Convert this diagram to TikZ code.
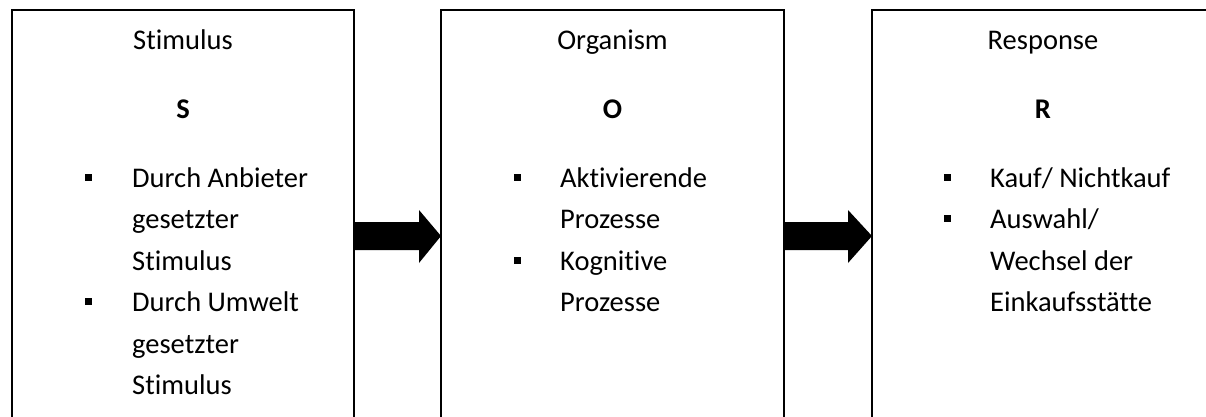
\documentclass[tikz,border=0pt]{standalone}
\usepackage{fontspec}
\setmainfont[Ligatures=NoCommon]{Carlito}
\usetikzlibrary{calc}
\begin{document}
\begin{tikzpicture}[x=1pt,y=-1pt,
  box/.style={draw, line width=1.5pt, minimum height=440pt, anchor=north west, inner sep=0pt, outer sep=0pt},
  txt/.style={font=\fontsize{28.5}{41.5}\selectfont, inner sep=0pt, anchor=base},
  item/.style={font=\fontsize{28.5}{41.5}\selectfont, inner sep=0pt, anchor=base west, align=left},
  bul/.style={fill, minimum size=7pt, inner sep=0pt},
  arr/.style={fill=black}]
\useasboundingbox (0,0) rectangle (1206,417);
\fill[white] (0,0) rectangle (1206,417);
\clip (0,0) rectangle (1206,417);
% boxes
\node[box, minimum width=342pt] (b1) at (12,10) {};
\node[box, minimum width=343pt] (b2) at (441,10) {};
\node[box, minimum width=342pt] (b3) at (872,10) {};
% titles
\node[txt] (t1) at ($(b1.north)+(0,40)$) {Stimulus};
\node[txt] (t2) at ($(b2.north)+(0,40)$) {Organism};
\node[txt] (t3) at ($(b3.north)+(0,40)$) {Response};
\node[txt] (l1) at ($(b1.north)+(0,108)$) {\bfseries S};
\node[txt] (l2) at ($(b2.north)+(0,108)$) {\bfseries O};
\node[txt] (l3) at ($(b3.north)+(0,108)$) {\bfseries R};
% box 1 items (base anchor = baseline of last line)
\node[bul] (p11) at ($(b1.north west)+(76,167)$) {};
\node[item] (i11) at ($(b1.north west)+(120,260)$) {Durch Anbieter\\gesetzter\\Stimulus};
\node[bul] (p12) at ($(b1.north west)+(76,291.5)$) {};
\node[item] (i12) at ($(b1.north west)+(120,384.5)$) {Durch Umwelt\\gesetzter\\Stimulus};
% box 2 items
\node[bul] (p21) at ($(b2.north west)+(76,167)$) {};
\node[item] (i21) at ($(b2.north west)+(119,218.5)$) {Aktivierende\\Prozesse};
\node[bul] (p22) at ($(b2.north west)+(76,250)$) {};
\node[item] (i22) at ($(b2.north west)+(119,301.5)$) {Kognitive\\Prozesse};
% box 3 items
\node[bul] (p31) at ($(b3.north west)+(75,167)$) {};
\node[item] (i31) at ($(b3.north west)+(118,177)$) {Kauf/ Nichtkauf};
\node[bul] (p32) at ($(b3.north west)+(75,208.5)$) {};
\node[item] (i32) at ($(b3.north west)+(118,301.5)$) {Auswahl/\\Wechsel der\\Einkaufsstätte};
% arrows
\fill[arr] ($(b1.north east)+(0,212)$) -- ($(b2.north west)+(-22,212)$) -- ($(b2.north west)+(-22,200)$)
  -- ($(b2.north west)+(0,226)$) -- ($(b2.north west)+(-22,253)$) -- ($(b2.north west)+(-22,240)$)
  -- ($(b1.north east)+(0,240)$) -- cycle;
\fill[arr] ($(b2.north east)+(0,212)$) -- ($(b3.north west)+(-24,212)$) -- ($(b3.north west)+(-24,200)$)
  -- ($(b3.north west)+(0,226)$) -- ($(b3.north west)+(-24,253)$) -- ($(b3.north west)+(-24,240)$)
  -- ($(b2.north east)+(0,240)$) -- cycle;
\end{tikzpicture}
\end{document}
